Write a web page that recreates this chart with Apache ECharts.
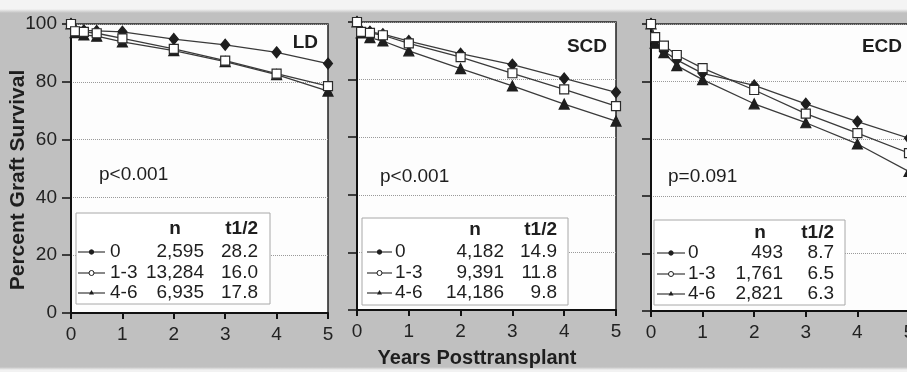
<!DOCTYPE html>
<html>
<head>
<meta charset="utf-8">
<script src="https://cdn.jsdelivr.net/npm/echarts@6/dist/echarts.min.js"></script>
<style>
  html, body { margin: 0; padding: 0; background: #fff; }
  #chart {
    width: 907px; height: 372px;
    background: linear-gradient(to bottom, #f4f4f4 0px, #f4f4f4 9px, #c0c0c0 13px, #c0c0c0 367px, #f2f2f2 370px);
  }
</style>
</head>
<body>
<div id="chart"></div>
<script>
// ---------- data ----------
var years = [0, 0.08, 0.25, 0.5, 1, 2, 3, 4, 5];
var groups = ['0', '1-3', '4-6'];
var panelNames = ['LD', 'SCD', 'ECD'];
var pValues = ['p<0.001', 'p<0.001', 'p=0.091'];
var yTicks = [0, 20, 40, 60, 80, 100];
var xTicks = [0, 1, 2, 3, 4, 5];

var ld0  = [100, 98.0, 97.8, 97.6, 97.3, 94.8, 92.8, 90.2, 86.3];
var ld13 = [100, 97.5, 97.3, 96.8, 95.0, 91.4, 87.3, 82.8, 78.5];
var ld46 = [100, 97.0, 96.2, 95.8, 93.8, 90.8, 87.0, 82.5, 76.8];

var scd0  = [100, 97.0, 96.6, 95.8, 93.4, 89.0, 85.2, 80.4, 75.6];
var scd13 = [100, 96.6, 96.2, 95.4, 92.6, 87.8, 82.2, 76.6, 70.8];
var scd46 = [100, 96.2, 94.6, 93.4, 90.0, 83.8, 77.8, 71.5, 65.6];

var ecd0  = [100, 94.0, 90.5, 87.5, 82.8, 78.6, 72.2, 66.0, 60.2];
var ecd13 = [100, 95.4, 92.5, 89.2, 84.6, 77.0, 68.8, 62.0, 55.0];
var ecd46 = [100, 93.3, 90.0, 85.5, 80.6, 72.2, 65.6, 58.2, 48.6];

var nLD  = ['2,595', '13,284', '6,935'];
var tLD  = ['28.2', '16.0', '17.8'];
var nSCD = ['4,182', '9,391', '14,186'];
var tSCD = ['14.9', '11.8', '9.8'];
var nECD = ['493', '1,761', '2,821'];
var tECD = ['8.7', '6.5', '6.3'];

// ---------- layout ----------
var FONT = '"Liberation Sans", Arial, sans-serif';
var INK = '#1e1e1e';
var LINE = '#3a3a3a';

var panels = [
    { grid: { left: 71, top: 24, width: 257, height: 289 }, name: [318, 43], p: [99, 175],
      box: [76, 213, 194, 91], line: [78, 105], lab: 110, nC: 175, nR: 204, tR: 258, hy: 229, rows: [252, 273, 293],
      vals: [ld0, ld13, ld46], n: nLD, t: tLD },
    { grid: { left: 357, top: 22, width: 259, height: 288 }, name: [607, 47], p: [380, 177],
      box: [362, 218, 206, 87], line: [367, 392], lab: 395, nC: 475, nR: 504, tR: 557, hy: 230, rows: [252, 273, 293],
      vals: [scd0, scd13, scd46], n: nSCD, t: tSCD },
    { grid: { left: 651, top: 24, width: 258, height: 287 }, name: [902, 47], p: [668, 177],
      box: [654, 220, 191, 85], line: [657, 685], lab: 688, nC: 760, nR: 783, tR: 834, hy: 233, rows: [253, 274, 294],
      vals: [ecd0, ecd13, ecd46], n: nECD, t: tECD }
];

var symbols = [
    { symbol: 'diamond', size: [9, 11], fill: INK, border: INK },
    { symbol: 'rect', size: 9, fill: '#fff', border: '#2a2a2a' },
    { symbol: 'triangle', size: 10, fill: INK, border: INK }
];

function txt(x, y, s, size, weight, align) {
    return {
        type: 'text', x: x, y: y, z: 100,
        style: {
            text: s, fill: INK, fontSize: size, fontWeight: weight || 'normal',
            fontFamily: FONT, align: align || 'left', verticalAlign: 'middle'
        }
    };
}

var grids = [], xAxes = [], yAxes = [], series = [], graphics = [];

panels.forEach(function (pn, i) {
    grids.push(Object.assign({
        show: true, backgroundColor: '#fdfdfd', borderColor: '#222', borderWidth: 1.5,
        containLabel: false, outerBoundsMode: 'none'
    }, pn.grid));

    xAxes.push({
        type: 'value', gridIndex: i, min: xTicks[0], max: xTicks[xTicks.length - 1], interval: 1,
        axisLine: { show: true, onZero: false, lineStyle: { color: '#111', width: 2 } },
        axisTick: { show: true, inside: false, length: 6, lineStyle: { color: '#111', width: 2 } },
        axisLabel: { fontSize: 19, color: '#222', fontFamily: FONT, margin: 12, hideOverlap: false },
        splitLine: { show: false }
    });

    yAxes.push({
        type: 'value', gridIndex: i, min: yTicks[0], max: yTicks[yTicks.length - 1], interval: 20,
        axisLine: { show: true, onZero: false, lineStyle: { color: '#111', width: 2 } },
        axisTick: { show: true, inside: false, length: 9, lineStyle: { color: '#111', width: 1.5 } },
        axisLabel: { show: i === 0, fontSize: 19, color: '#222', fontFamily: FONT, margin: 14 },
        splitLine: { show: true, lineStyle: { color: '#9a9a9a', type: 'dotted', width: 1 } }
    });

    pn.vals.forEach(function (vals, g) {
        var sy = symbols[g];
        series.push({
            name: panelNames[i] + ' ' + groups[g],
            type: 'line', xAxisIndex: i, yAxisIndex: i,
            data: years.map(function (yr, k) { return [yr, vals[k]]; }),
            symbol: sy.symbol, symbolSize: sy.size, showAllSymbol: true,
            clip: false, animation: false, z: 3 + (g === 1 ? 1 : 0),
            lineStyle: { color: LINE, width: 1.3 },
            itemStyle: { color: sy.fill, borderColor: sy.border, borderWidth: 1.2 }
        });
    });

    // panel name and p value
    graphics.push(txt(pn.name[0], pn.name[1], panelNames[i], 19, 'bold', 'right'));
    graphics.push(txt(pn.p[0], pn.p[1], pValues[i], 19));

    // legend table
    graphics.push({
        type: 'rect', z: 99,
        shape: { x: pn.box[0], y: pn.box[1], width: pn.box[2], height: pn.box[3] },
        style: { fill: '#fff', stroke: '#a8a8a8', lineWidth: 1 }
    });
    graphics.push(txt(pn.nC, pn.hy, 'n', 19, 'bold', 'center'));
    graphics.push(txt(pn.tR, pn.hy, 't1/2', 19, 'bold', 'right'));
    pn.rows.forEach(function (ry, g) {
        var mx = (pn.line[0] + pn.line[1]) / 2;
        graphics.push({
            type: 'line', z: 100,
            shape: { x1: pn.line[0], y1: ry, x2: pn.line[1], y2: ry },
            style: { stroke: LINE, lineWidth: 1.2 }
        });
        if (g === 2) {
            graphics.push({
                type: 'polygon', z: 101,
                shape: { points: [[mx, ry - 3], [mx - 2.5, ry + 1.5], [mx + 2.5, ry + 1.5]] },
                style: { fill: INK }
            });
        } else {
            graphics.push({
                type: 'circle', z: 101,
                shape: { cx: mx, cy: ry, r: g === 0 ? 2.2 : 2.5 },
                style: { fill: g === 0 ? INK : '#fff', stroke: INK, lineWidth: 1 }
            });
        }
        graphics.push(txt(pn.lab, ry, groups[g], 19));
        graphics.push(txt(pn.nR, ry, pn.n[g], 19, 'normal', 'right'));
        graphics.push(txt(pn.tR, ry, pn.t[g], 19, 'normal', 'right'));
    });
});

// axis titles
graphics.push({
    type: 'text', x: 18, y: 180, rotation: Math.PI / 2, z: 100,
    style: {
        text: 'Percent Graft Survival', fill: INK, fontSize: 21, fontWeight: 'bold',
        fontFamily: FONT, align: 'center', verticalAlign: 'middle'
    }
});
graphics.push(txt(477, 358, 'Years Posttransplant', 20, 'bold', 'center'));

var chart = echarts.init(document.getElementById('chart'));
chart.setOption({
    backgroundColor: 'transparent',
    animation: false,
    grid: grids,
    xAxis: xAxes,
    yAxis: yAxes,
    series: series,
    graphic: graphics
});
</script>
</body>
</html>
